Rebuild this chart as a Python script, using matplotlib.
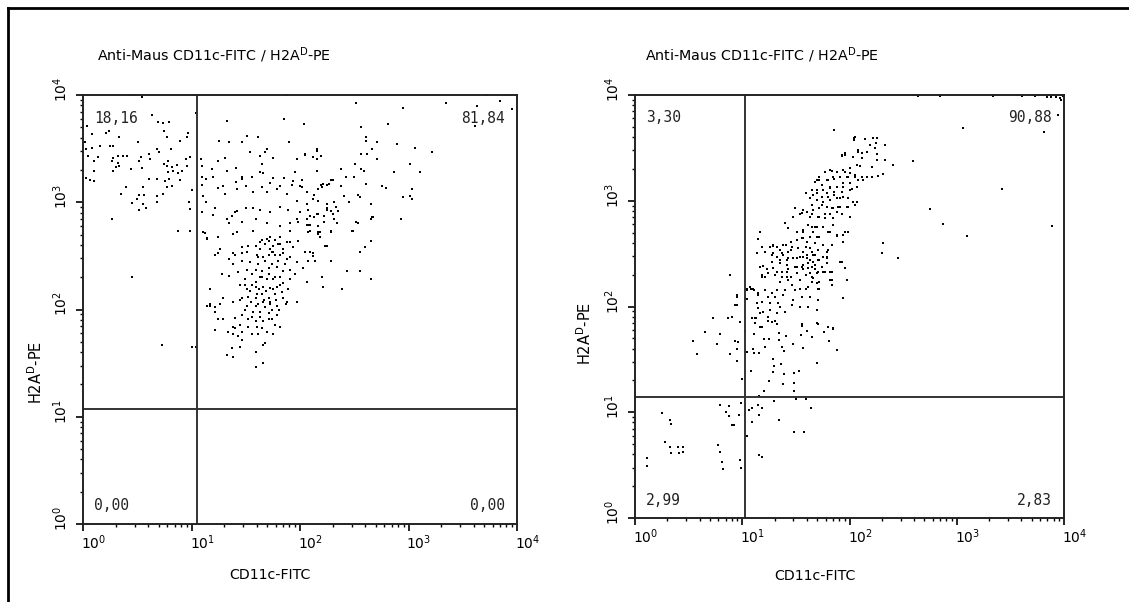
import matplotlib
matplotlib.use("Agg")
import matplotlib.pyplot as plt
from matplotlib.lines import Line2D
from matplotlib.ticker import FixedLocator, LogLocator, NullFormatter
import matplotlib.transforms as mtransforms
import numpy as np

# events, as log10 decades (x = CD11c-FITC, y = H2A-D-PE)
left_events = [
    # upper left quadrant
    (0.44, 4.00), (0.54, 3.98), (0.64, 3.81), (0.69, 3.75), (0.74, 3.74), (0.79, 3.75), (0.75, 3.66),
    (0.97, 3.65), (0.96, 3.61), (0.89, 3.57), (0.77, 3.61), (0.04, 3.71), (0.08, 3.64), (0.21, 3.65),
    (0.24, 3.66), (0.33, 3.61), (0.28, 3.52), (0.25, 3.52), (0.08, 3.51), (0.16, 3.52), (0.02, 3.56),
    (0.03, 3.50), (0.51, 3.56), (0.61, 3.45), (0.68, 3.50), (0.70, 3.47), (0.81, 3.50), (0.53, 3.42),
    (0.52, 3.38), (0.32, 3.43), (0.37, 3.43), (0.41, 3.43), (0.28, 3.41), (0.27, 3.38), (0.05, 3.43),
    (0.10, 3.38), (0.14, 3.42), (0.32, 3.37), (0.33, 3.34), (0.30, 3.33), (0.28, 3.29), (0.10, 3.29),
    (0.44, 3.31), (0.54, 3.32), (0.62, 3.40), (0.75, 3.36), (0.78, 3.38), (0.77, 3.34), (0.82, 3.33),
    (0.87, 3.35), (0.83, 3.29), (0.78, 3.28), (0.88, 3.27), (0.91, 3.29), (0.96, 3.34), (0.99, 3.42),
    (0.95, 3.40), (0.79, 3.22), (0.76, 3.20), (0.68, 3.22), (0.61, 3.22), (0.82, 3.15), (0.77, 3.14),
    (0.89, 3.21), (0.03, 3.23), (0.06, 3.21), (0.10, 3.20), (0.40, 3.14), (0.55, 3.14), (0.35, 3.08),
    (0.52, 3.07), (0.56, 3.07), (0.68, 3.06), (0.74, 3.08), (0.50, 3.03), (0.45, 2.99), (0.55, 2.98),
    (0.58, 2.95), (0.68, 3.00), (0.52, 2.93), (0.27, 2.84), (0.98, 3.00), (0.99, 2.94), (0.88, 2.73),
    (0.99, 2.73), (1.00, 3.11), (1.04, 3.83), (0.45, 2.30), (0.73, 1.67), (1.00, 1.65),
    # upper right quadrant, upper part
    (1.33, 3.76), (1.85, 3.78), (2.04, 3.73), (1.88, 4.00), (1.25, 3.57), (1.35, 3.56), (1.47, 3.56),
    (1.51, 3.62), (1.61, 3.61), (1.90, 3.56), (1.70, 3.50), (1.68, 3.47), (1.54, 3.47), (1.63, 3.43),
    (1.75, 3.41), (1.97, 3.40), (2.05, 3.44), (2.16, 3.48), (2.16, 3.40), (1.31, 3.41), (1.24, 3.38),
    (1.09, 3.40), (1.10, 3.34), (1.19, 3.31), (1.33, 3.29), (1.41, 3.32), (1.65, 3.36), (1.63, 3.28),
    (1.66, 3.27), (1.56, 3.24), (1.47, 3.24), (1.47, 3.22), (1.75, 3.23), (1.72, 3.18), (1.82, 3.15),
    (1.85, 3.23), (1.94, 3.20), (1.95, 3.28), (1.93, 3.16), (2.00, 3.15), (2.02, 3.21), (2.16, 3.29),
    (2.19, 3.16), (2.25, 3.16), (2.30, 3.21), (1.10, 3.24), (1.13, 3.22), (1.20, 3.24), (1.10, 3.16),
    (1.24, 3.13), (1.29, 3.15), (1.31, 3.08), (1.41, 3.19), (1.42, 3.12), (1.50, 3.15), (1.57, 3.10),
    (1.65, 3.14), (1.70, 3.10), (1.79, 3.12), (1.88, 3.08), (1.97, 3.01), (2.06, 3.10), (2.17, 3.12),
    (2.12, 3.03), (2.25, 2.98), (2.25, 2.95), (2.33, 2.96), (1.11, 3.06), (1.13, 3.00), (1.22, 2.95),
    (1.10, 2.91), (1.20, 2.88), (1.37, 2.87), (1.42, 2.92), (1.50, 2.95), (1.57, 2.95), (1.63, 2.93),
    (1.72, 2.91), (1.82, 2.96), (1.89, 2.93), (2.00, 2.91), (1.97, 2.84), (2.09, 2.87), (2.17, 2.89),
    (2.30, 2.89), (1.33, 2.84), (1.47, 2.82), (1.59, 2.84), (1.70, 2.81), (1.82, 2.78), (1.42, 2.72),
    (1.57, 2.73), (1.70, 2.66), (1.82, 2.68), (1.91, 2.73), (2.09, 2.73), (2.18, 2.68), (2.29, 2.73),
    (1.12, 2.71), (1.24, 2.68), (1.14, 2.66), (1.52, 2.59), (1.63, 2.63), (1.75, 2.59), (1.88, 2.63),
    (1.94, 2.58), (2.09, 2.54), (2.25, 2.59), (1.24, 2.53), (1.38, 2.53), (1.47, 2.53), (1.60, 2.51),
    (1.74, 2.54), (1.84, 2.53),
    # main cluster
    (1.28, 2.33), (1.35, 2.31), (1.38, 2.42), (1.35, 2.47), (1.40, 2.51), (1.47, 2.58), (1.51, 2.54),
    (1.59, 2.59), (1.63, 2.63), (1.71, 2.64), (1.77, 2.65), (1.82, 2.61), (1.91, 2.63), (1.98, 2.64),
    (2.05, 2.54), (2.12, 2.50), (2.14, 2.45), (2.03, 2.39), (1.97, 2.44), (1.88, 2.47), (1.82, 2.51),
    (1.75, 2.54), (1.66, 2.49), (1.61, 2.42), (1.54, 2.44), (1.47, 2.45), (1.51, 2.37), (1.43, 2.35),
    (1.56, 2.33), (1.65, 2.36), (1.71, 2.39), (1.79, 2.40), (1.84, 2.36), (1.91, 2.37), (1.95, 2.33),
    (1.82, 2.30), (1.75, 2.28), (1.70, 2.28), (1.63, 2.30), (1.59, 2.26), (1.49, 2.28), (1.45, 2.23),
    (1.51, 2.19), (1.59, 2.21), (1.66, 2.21), (1.72, 2.20), (1.79, 2.21), (1.84, 2.25), (1.91, 2.28),
    (1.89, 2.19), (1.83, 2.16), (1.77, 2.14), (1.71, 2.11), (1.65, 2.14), (1.59, 2.11), (1.52, 2.12),
    (1.47, 2.11), (1.38, 2.07), (1.29, 2.11), (1.22, 2.02), (1.17, 2.05), (1.26, 2.05), (1.51, 2.03),
    (1.59, 2.03), (1.66, 2.07), (1.72, 2.07), (1.79, 2.03), (1.88, 2.07), (1.97, 2.07), (1.63, 1.98),
    (1.71, 1.97), (1.79, 1.95), (1.56, 1.93), (1.47, 1.95), (1.40, 1.92), (1.66, 1.89), (1.74, 1.91),
    (1.82, 1.84), (1.60, 1.84), (1.52, 1.84), (1.45, 1.86), (1.38, 1.84), (1.47, 1.79), (1.56, 1.77),
    (1.61, 1.77), (1.70, 1.79), (1.75, 1.77), (1.43, 1.75), (1.38, 1.77), (1.47, 1.72), (1.45, 1.65),
    (1.37, 1.64), (1.66, 1.67), (1.68, 1.69), (1.33, 1.58), (1.38, 1.56), (1.59, 1.60), (1.66, 1.50),
    (1.59, 1.46), (1.04, 1.65), (1.22, 1.81), (1.24, 1.91), (1.17, 2.03),
    (1.65, 2.65), (1.68, 2.61), (1.72, 2.56), (1.77, 2.51), (1.80, 2.45), (1.74, 2.42), (1.68, 2.45),
    (1.61, 2.49), (1.59, 2.37), (1.65, 2.30), (1.71, 2.33), (1.77, 2.30), (1.82, 2.23), (1.75, 2.19),
    (1.69, 2.17), (1.62, 2.19), (1.56, 2.23), (1.60, 2.14), (1.67, 2.09), (1.72, 2.05), (1.78, 2.09),
    (1.84, 2.11), (1.87, 2.05), (1.81, 2.00), (1.74, 2.00), (1.68, 2.02), (1.61, 2.05), (1.55, 2.07),
    (1.57, 1.98), (1.63, 1.93), (1.71, 1.91), (1.77, 1.86), (1.65, 1.83), (1.59, 1.89), (1.52, 1.91),
    (1.49, 2.00), (1.45, 2.09), (1.54, 2.17), (1.49, 2.23), (1.86, 2.42), (1.91, 2.49), (1.84, 2.56),
    (1.71, 2.51), (1.63, 2.56), (1.80, 2.61), (1.72, 2.68),
    # scattered right of the cluster
    (2.07, 2.45), (2.12, 2.53), (2.17, 2.70), (2.23, 2.59), (2.29, 2.45), (2.43, 2.36), (2.55, 2.36),
    (2.65, 2.28), (2.06, 2.26), (2.21, 2.21), (2.39, 2.19), (2.20, 2.30), (2.49, 2.73), (2.55, 2.54),
    (2.60, 2.58), (2.65, 2.64), (2.66, 2.86), (2.53, 2.81), (2.29, 2.72), (2.17, 2.72), (2.07, 2.79),
    (2.06, 2.84), (1.98, 2.82), (1.91, 2.81), (1.38, 2.70), (1.35, 2.81), (1.40, 2.91), (1.22, 2.95),
    (1.11, 2.72), (1.14, 2.67), (1.22, 2.51), (1.26, 2.56), (1.17, 2.19), (1.14, 2.03), (1.22, 1.98),
    (1.29, 1.91), (1.34, 1.79), (1.40, 1.83),
    # upper right, high FITC
    (2.52, 3.93), (2.95, 3.88), (3.35, 3.93), (3.63, 3.90), (3.72, 4.00), (3.84, 3.94), (3.61, 3.71),
    (3.94, 4.00), (3.95, 3.87), (2.56, 3.70), (2.81, 3.73), (2.61, 3.61), (2.61, 3.57), (2.71, 3.56),
    (2.89, 3.54), (3.06, 3.51), (3.22, 3.47), (2.66, 3.50), (2.56, 3.45), (2.62, 3.45), (2.71, 3.40),
    (2.05, 3.45), (2.16, 3.50), (2.12, 3.42), (2.19, 3.43), (2.51, 3.36), (2.38, 3.31), (2.56, 3.31),
    (2.59, 3.29), (2.87, 3.28), (3.01, 3.36), (3.11, 3.28), (2.42, 3.24), (2.50, 3.24), (2.29, 3.21),
    (2.27, 3.17), (2.21, 3.17), (2.20, 3.14), (2.02, 3.14), (2.06, 3.10), (2.13, 3.07), (2.38, 3.15),
    (2.61, 3.17), (2.76, 3.15), (2.79, 3.13), (3.03, 3.12), (2.95, 3.05), (3.01, 3.06), (3.03, 3.03),
    (2.41, 3.06), (2.53, 3.07), (2.55, 3.05), (2.65, 2.98), (2.45, 3.00), (2.31, 3.00), (2.17, 3.01),
    (2.06, 2.98), (2.07, 2.93), (2.25, 2.93), (2.29, 2.92), (2.35, 2.92), (2.16, 2.89), (2.22, 2.87),
    (2.31, 2.84), (2.34, 2.81), (2.22, 2.82), (2.13, 2.86), (2.06, 2.79), (2.09, 2.79), (2.17, 2.78),
    (2.67, 2.86), (2.65, 2.84), (2.52, 2.82), (2.93, 2.84), (2.48, 2.73), (2.18, 2.72), (2.07, 2.72),
]

right_events = [
    # main diagonal population
    (1.86, 3.67), (2.05, 3.60), (2.04, 3.57), (2.08, 3.46), (1.93, 3.43), (1.96, 3.43), (2.00, 3.31),
    (1.94, 3.29), (1.88, 3.27), (1.82, 3.29), (1.77, 3.27), (1.72, 3.22), (1.79, 3.20), (1.85, 3.22),
    (1.91, 3.22), (1.98, 3.22), (2.00, 3.26), (2.05, 3.24), (2.08, 3.20), (1.94, 3.17), (1.88, 3.13),
    (1.82, 3.13), (1.74, 3.15), (1.70, 3.20), (1.65, 3.10), (1.59, 3.07), (1.70, 3.07), (1.79, 3.07),
    (1.86, 3.08), (1.93, 3.08), (2.00, 3.10), (1.94, 3.04), (1.88, 3.03), (1.82, 3.01), (1.75, 2.99),
    (1.70, 3.01), (1.63, 3.03), (1.65, 2.96), (1.74, 2.96), (1.84, 2.93), (1.89, 2.94), (1.99, 2.94),
    (2.03, 2.99), (1.88, 2.89), (1.82, 2.87), (1.77, 2.87), (1.72, 2.85), (1.65, 2.87), (1.57, 2.91),
    (1.49, 2.93), (1.54, 2.87), (1.47, 2.85), (1.40, 2.79), (1.43, 2.74), (1.51, 2.70), (1.57, 2.70),
    (1.65, 2.75), (1.70, 2.75), (1.75, 2.75), (1.82, 2.70), (1.88, 2.68), (1.94, 2.68), (1.99, 2.70),
    (1.94, 2.61), (1.70, 2.66), (1.63, 2.66), (1.57, 2.65), (1.51, 2.63), (1.45, 2.61), (1.38, 2.58),
    (1.32, 2.56), (1.26, 2.56), (1.29, 2.58), (1.18, 2.56), (1.14, 2.51), (1.21, 2.52), (1.29, 2.51),
    (1.37, 2.51), (1.45, 2.53), (1.52, 2.55), (1.59, 2.56), (1.65, 2.52), (1.71, 2.53), (1.79, 2.52),
    (1.84, 2.58), (1.79, 2.47), (1.68, 2.49), (1.63, 2.44), (1.57, 2.47), (1.51, 2.46), (1.43, 2.46),
    (1.35, 2.44), (1.28, 2.42), (1.42, 2.39), (1.51, 2.37), (1.57, 2.39), (1.65, 2.37), (1.71, 2.33),
    (1.75, 2.33), (1.82, 2.33), (1.93, 2.42), (1.63, 2.32), (1.51, 2.32), (1.42, 2.33), (1.32, 2.33),
    (1.24, 2.32), (1.18, 2.30), (1.21, 2.28), (1.17, 2.37), (1.42, 2.28), (0.89, 2.30),
    (2.04, 3.59), (2.14, 3.58), (2.22, 3.59), (2.26, 3.59), (2.19, 3.53), (2.25, 3.55), (2.33, 3.53),
    (2.08, 3.48), (2.12, 3.45), (2.16, 3.46), (2.24, 3.50), (2.26, 3.44), (1.96, 3.45), (1.93, 3.42),
    (2.03, 3.41), (2.12, 3.40), (2.26, 3.39), (2.33, 3.39), (2.59, 3.38), (2.41, 3.34), (2.07, 3.34),
    (2.10, 3.33), (2.21, 3.32), (1.96, 3.27), (1.84, 3.28), (2.31, 3.25), (2.27, 3.23), (2.21, 3.22),
    (2.16, 3.22), (2.12, 3.22), (2.05, 3.22), (1.99, 3.22), (1.86, 3.21), (1.80, 3.20), (1.72, 3.20),
    (1.68, 3.18), (2.13, 3.20), (2.07, 3.13), (2.00, 3.17), (2.02, 3.11), (1.94, 3.13), (1.82, 3.12),
    (1.75, 3.10), (1.70, 3.10), (1.66, 3.05), (1.74, 3.04), (1.80, 3.04), (1.86, 3.05), (1.91, 3.03),
    (1.99, 3.03), (2.07, 2.99), (2.05, 2.96), (1.98, 2.94), (1.91, 2.94), (1.85, 2.93), (1.79, 2.94),
    (1.72, 2.93), (1.66, 2.91), (1.60, 2.89), (1.56, 2.88), (1.63, 2.85), (1.71, 2.85), (1.77, 2.84),
    (1.85, 2.84), (1.93, 2.87), (2.00, 2.85), (1.85, 2.77), (1.68, 2.75), (1.61, 2.77), (1.57, 2.72),
    (1.66, 2.70), (1.72, 2.66), (1.80, 2.70), (1.88, 2.67), (1.96, 2.70), (1.56, 2.65), (1.60, 2.61),
    (1.68, 2.60), (1.75, 2.58), (1.63, 2.55), (1.57, 2.52), (1.60, 2.49), (1.66, 2.49), (1.80, 2.53),
    (1.72, 2.44), (1.79, 2.46), (1.91, 2.42), (1.61, 2.41), (1.68, 2.39), (1.57, 2.35), (1.70, 2.32),
    (1.96, 2.36), (1.66, 2.27), (1.84, 2.25), (1.98, 2.25), (1.70, 2.22), (1.84, 2.20), (1.72, 2.17),
    (1.59, 2.17),
    (1.17, 2.70), (1.15, 2.64), (1.29, 2.57), (1.35, 2.53), (1.41, 2.58), (1.46, 2.56), (1.43, 2.52),
    (1.38, 2.49), (1.32, 2.47), (1.28, 2.49), (1.19, 2.38), (1.23, 2.35), (1.29, 2.36), (1.35, 2.41),
    (1.42, 2.44), (1.47, 2.46), (1.54, 2.47), (1.60, 2.46), (1.66, 2.42), (1.71, 2.44), (1.75, 2.47),
    (1.79, 2.41), (1.74, 2.37), (1.68, 2.35), (1.61, 2.36), (1.56, 2.37), (1.49, 2.37), (1.43, 2.35),
    (1.37, 2.33), (1.31, 2.30), (1.18, 2.28), (1.37, 2.28), (1.45, 2.28), (1.59, 2.30), (1.65, 2.28),
    (1.77, 2.33), (1.84, 2.33), (1.82, 2.25), (1.72, 2.23), (1.65, 2.23), (1.54, 2.25), (1.43, 2.25),
    (1.35, 2.23), (1.46, 2.20), (1.54, 2.17), (1.61, 2.18), (1.71, 2.17), (1.49, 2.16), (1.40, 2.16),
    (1.32, 2.16), (1.28, 2.13), (1.21, 2.16), (1.15, 2.13), (1.10, 2.17), (1.07, 2.18), (1.04, 2.16),
    (1.03, 2.08), (1.24, 2.09), (1.31, 2.09), (1.38, 2.11), (1.47, 2.06), (1.56, 2.09), (1.63, 2.09),
    (1.71, 2.06), (1.18, 2.04), (1.26, 2.03), (1.33, 2.03), (1.35, 2.00), (1.46, 2.01), (1.54, 2.00),
    (1.61, 2.00), (1.70, 1.97), (1.14, 2.03), (1.15, 1.99), (1.19, 1.95), (1.26, 1.97), (1.32, 1.94),
    (1.40, 1.95), (1.24, 1.90), (1.28, 1.85), (1.32, 1.83), (1.18, 1.81), (1.12, 1.84), (1.12, 1.89),
    (1.09, 1.89), (1.56, 1.83), (1.70, 1.84), (1.80, 1.81), (1.85, 1.80), (1.94, 2.08), (0.95, 2.11),
    (0.93, 2.01), (0.73, 1.89), (0.87, 1.89), (0.90, 1.90), (0.98, 1.85), (1.04, 2.17),
    # lower tail of the population
    (0.95, 2.09), (0.95, 2.01), (0.65, 1.76), (0.79, 1.74), (0.54, 1.67), (0.76, 1.65), (0.93, 1.67),
    (0.96, 1.66), (0.95, 1.60), (0.58, 1.55), (0.89, 1.55), (0.95, 1.48), (1.00, 1.31), (1.03, 1.77),
    (1.04, 2.07), (1.04, 1.57), (1.08, 2.17), (1.11, 2.16), (1.15, 2.11), (1.09, 1.89), (1.13, 1.89),
    (1.17, 1.81), (1.11, 1.74), (1.08, 1.39), (1.10, 1.60), (1.11, 1.56), (1.16, 1.56), (1.20, 1.69),
    (1.21, 1.62), (1.25, 1.69), (1.29, 1.50), (1.30, 1.44), (1.25, 1.30), (1.20, 1.20), (1.16, 1.15),
    (1.29, 1.38), (1.36, 1.46), (1.39, 1.36), (1.38, 1.27), (1.48, 1.37), (1.53, 1.39), (1.48, 1.28),
    (1.48, 1.20), (1.50, 1.13), (1.59, 1.13), (1.30, 1.11), (1.64, 1.04), (1.70, 1.47), (1.34, 1.75),
    (1.39, 1.58), (1.47, 1.65), (1.57, 1.61), (1.65, 1.71), (1.37, 1.62), (1.88, 1.59), (1.81, 1.67),
    (1.85, 1.79), (1.76, 1.76), (1.71, 1.83), (1.60, 1.77), (1.56, 1.82), (1.55, 1.73), (1.41, 1.72),
    (1.34, 1.68), (1.31, 1.86), (1.24, 1.86), (1.17, 1.94),
    # scattered high FITC and saturated events
    (3.06, 3.69), (3.81, 3.65), (3.94, 3.81), (3.42, 3.11), (2.75, 2.92), (2.87, 2.78), (3.10, 2.67),
    (3.89, 2.76), (2.31, 2.60), (2.30, 2.51), (2.45, 2.46), (2.64, 3.99), (2.84, 3.99), (3.34, 3.99),
    (3.61, 3.99), (3.73, 3.99), (3.84, 3.98), (3.88, 3.98), (3.93, 3.98), (3.90, 4.00), (3.96, 3.97),
    (3.99, 3.99), (3.97, 3.95),
    # below the horizontal gate
    (0.25, 0.99), (0.33, 0.93), (0.28, 0.72), (0.33, 0.67), (0.40, 0.67), (0.45, 0.67), (0.45, 0.62),
    (0.11, 0.57), (0.77, 0.69), (0.81, 0.53), (0.79, 1.07), (0.88, 1.06), (0.85, 1.00), (0.88, 0.96),
    (0.90, 0.88), (0.92, 0.88), (0.97, 0.97), (0.99, 1.09), (0.98, 0.55), (1.04, 0.78), (1.06, 1.02),
    (1.09, 1.04), (1.15, 1.07), (1.18, 1.04), (1.16, 0.97), (1.09, 0.91), (1.34, 0.93), (1.48, 0.81),
    (1.58, 0.81), (1.16, 0.60), (1.18, 0.58), (0.34, 0.89), (0.34, 0.61), (0.41, 0.61), (0.79, 0.62),
    (0.82, 0.46), (0.99, 0.47), (0.11, 0.49),
]

# quadrant gates (log10 decades) and quadrant percentages
left_gate = (1.05, 1.07)
right_gate = (1.03, 1.14)
left_pct = ["18,16", "81,84", "0,00", "0,00"]    # UL, UR, LL, LR
right_pct = ["3,30", "90,88", "2,99", "2,83"]

title = "Anti-Maus CD11c-FITC / H2A$^{\\mathrm{D}}$-PE"
xlabel = "CD11c-FITC"
ylabel = "H2A$^{\\mathrm{D}}$-PE"

fig = plt.figure(figsize=(11.29, 6.02), dpi=100)

# frame of the original page (only top and left edges visible)
fig.add_artist(Line2D([8 / 1129, 8 / 1129], [0, 1 - 8 / 602], color="black", lw=2))
fig.add_artist(Line2D([8 / 1129, 1], [1 - 8 / 602, 1 - 8 / 602], color="black", lw=2))

panels = [
    dict(rect=[83 / 1129, 78 / 602, 434 / 1129, 429 / 602], events=left_events, gate=left_gate,
         pct=left_pct, xlab=(0.431, -0.118), ylab=(-0.11, 0.354), tit=(0.032, 1.093)),
    dict(rect=[635 / 1129, 84 / 602, 429 / 1129, 423 / 602], events=right_events, gate=right_gate,
         pct=right_pct, xlab=(0.42, -0.138), ylab=(-0.117, 0.437), tit=(0.023, 1.095)),
]

for p in panels:
    ax = fig.add_axes(p["rect"])
    ev = np.array(p["events"])
    ax.scatter(10 ** ev[:, 0], 10 ** ev[:, 1], s=1.3, marker="s", color="black", linewidths=0)

    gx, gy = p["gate"]
    ax.axvline(10 ** gx, color="#333333", lw=1.4)
    ax.axhline(10 ** gy, color="#333333", lw=1.4)

    ax.set_xscale("log")
    ax.set_yscale("log")
    ax.set_xlim(1, 1e4)
    ax.set_ylim(1, 1e4)
    for sp in ax.spines.values():
        sp.set_linewidth(1.4)
        sp.set_color("#222222")

    majors = [1, 10, 100, 1000, 10000]
    ax.xaxis.set_major_locator(FixedLocator(majors))
    ax.yaxis.set_major_locator(FixedLocator(majors))
    ax.xaxis.set_minor_locator(LogLocator(base=10, subs=np.arange(2, 10)))
    ax.yaxis.set_minor_locator(LogLocator(base=10, subs=np.arange(2, 10)))
    ax.xaxis.set_minor_formatter(NullFormatter())
    ax.yaxis.set_minor_formatter(NullFormatter())
    ax.tick_params(which="major", direction="out", length=5, width=1.2, labelsize=10, pad=2)
    ax.tick_params(which="minor", direction="out", length=2.5, width=1)
    ax.tick_params(axis="y", which="major", pad=4)

    for lab in ax.get_xticklabels():
        lab.set_ha("left")
        lab.set_transform(lab.get_transform() + mtransforms.ScaledTranslation(-2 / 100, 0, fig.dpi_scale_trans))
    for lab in ax.get_yticklabels():
        lab.set_rotation(90)
        lab.set_va("bottom")
        lab.set_transform(lab.get_transform() + mtransforms.ScaledTranslation(0, -7 / 100, fig.dpi_scale_trans))

    ul, ur, ll, lr = p["pct"]
    num = dict(family="DejaVu Sans Mono", fontsize=10.5, color="#222222", transform=ax.transAxes)
    ax.text(0.026, 0.946, ul, ha="left", va="center", **num)
    ax.text(0.972, 0.946, ur, ha="right", va="center", **num)
    ax.text(0.026, 0.042, ll, ha="left", va="center", **num)
    ax.text(0.972, 0.042, lr, ha="right", va="center", **num)

    ax.text(*p["tit"], title, transform=ax.transAxes, ha="left", va="center", fontsize=10.3)
    ax.text(*p["xlab"], xlabel, transform=ax.transAxes, ha="center", va="center", fontsize=10.2)
    ax.text(*p["ylab"], ylabel, transform=ax.transAxes, ha="center", va="center", fontsize=10.5,
            rotation=90)

fig.savefig("out.png", dpi=100)
